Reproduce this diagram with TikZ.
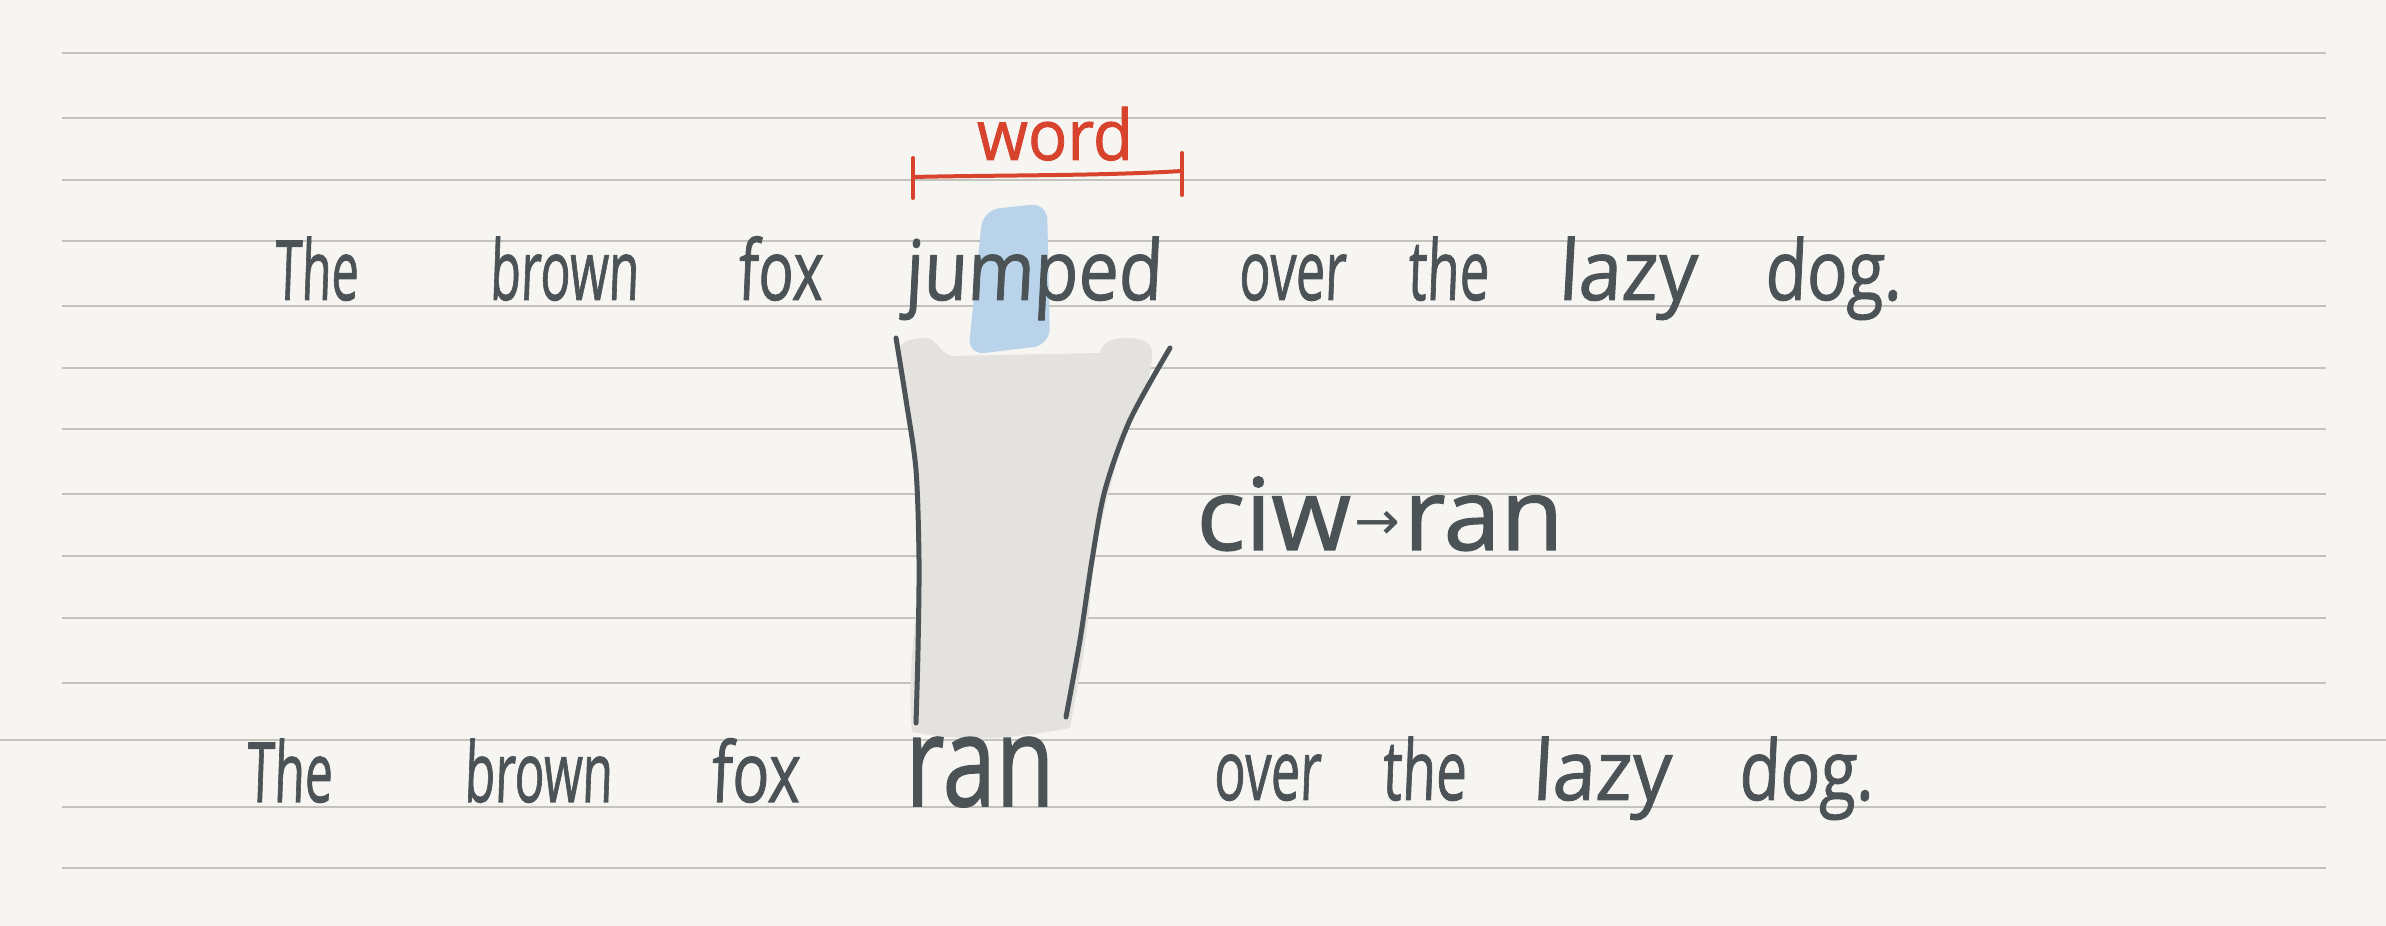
\documentclass[tikz,border=0pt]{standalone}
\usepackage{fontspec}
\usepackage{graphicx}
\newfontfamily\handfont[FakeSlant=0.06,FakeBold=1.2]{Open Sans}
\newfontfamily\uprightfont[FakeBold=1.2]{Open Sans}
\newfontfamily\symfont{DejaVu Sans}
\definecolor{paper}{HTML}{F6F5F1}
\definecolor{rulecol}{HTML}{C3C2BC}
\definecolor{ink}{HTML}{4B5356}
\definecolor{redink}{HTML}{D8432D}
\definecolor{hl}{HTML}{B9D3EA}
\definecolor{smudge}{HTML}{E3E2DE}
\newcommand\handword[2]{\setbox0\hbox{#2}\pgfmathsetmacro\hwr{#1*0.3/\the\wd0}\scalebox{\hwr}[1]{\box0}}
\begin{document}
\begin{tikzpicture}[x=0.3pt, y=-0.3pt,
  ruleline/.style={draw=rulecol, line width=0.75pt},
  word/.style={font={\handfont\fontsize{25pt}{25pt}\selectfont}, text=ink, inner sep=0pt, anchor=base},
  bigword/.style={word, font={\uprightfont\fontsize{38pt}{38pt}\selectfont}},
  cmdword/.style={word, font={\uprightfont\fontsize{30pt}{30pt}\selectfont}},
  redword/.style={word, text=redink, font={\uprightfont\fontsize{21pt}{21pt}\selectfont}},
  pen/.style={draw=ink, line width=1.5pt, line cap=round, line join=round},
  redpen/.style={draw=redink, line width=1.2pt, line cap=round, line join=round}]
\useasboundingbox (0,0) rectangle (2386,926);
\fill[paper] (0,0) rectangle (2386,926);
% ruled lines
\foreach \yy in {53,118,180,241,306,368,429,494,556,618,683,807,868}
  \draw[ruleline] (62,\yy) -- (2326,\yy);
\draw[ruleline] (0,740) -- (2386,740);
% grey smudge
\fill[smudge] (898,352) to[out=80,in=180] (925,338) to[out=0,in=170] (952,356)
  -- (1100,353) to[out=80,in=180] (1125,338) to[out=0,in=90] (1152,352)
  to[out=-90,in=75] (1120,450) to[out=-105,in=85] (1090,600) to[out=-95,in=80] (1070,728)
  to[out=-170,in=-10] (912,732) to[out=95,in=-90] (918,560) to[out=90,in=-80] (906,400)
  to[out=100,in=-90] cycle;
% blue highlight
\fill[hl, rounded corners=5pt] (983,210) -- (1047,203) -- (1050,345) -- (968,355) -- cycle;
% top sentence
\node[word] (t1) at (316,300) {\handword{84}{The}};
\node[word] (t2) at (564,300) {\handword{149}{brown}};
\node[word] (t3) at (780,300) {\handword{85}{fox}};
\node[word] (t4) at (1033,300) {\handword{257}{jumped}};
\node[word] (t5) at (1292,300) {\handword{107}{over}};
\node[word] (t6) at (1448,300) {\handword{81}{the}};
\node[word] (t7) at (1627,300) {\handword{138}{lazy}};
\node[word] (t8) at (1833,300) {\handword{137}{dog.}};
% bottom sentence
\node[word] (b1) at (289,802) {\handword{86}{The}};
\node[word] (b2) at (538,802) {\handword{148}{brown}};
\node[word] (b3) at (755,802) {\handword{89}{fox}};
\node[bigword] (b4) at (980,806) {\handword{149}{ran}};
\node[word] (b5) at (1267,800) {\handword{107}{over}};
\node[word] (b6) at (1424,800) {\handword{84}{the}};
\node[word] (b7) at (1601,800) {\handword{138}{lazy}};
\node[word] (b8) at (1806,800) {\handword{135}{dog.}};
% command
\node[cmdword] (cmd) at (1380,550) {\handword{367}{ciw\hspace{1pt}{\symfont\fontsize{16pt}{16pt}\selectfont\raisebox{3pt}{→}}\hspace{1pt}ran}};
% red label
\node[redword] (lbl) at (1055,160) {\handword{156}{word}};
\coordinate (bl) at (913,177);
\coordinate (br) at (1182,171);
\draw[redpen] (913,158) -- (913,198);
\draw[redpen] (1182,153) -- (1182,195);
\draw[redpen] (bl) .. controls (1000,175) and (1100,176) .. (br);
% funnel outlines
\draw[pen] plot[smooth] coordinates {(896,338) (906,400) (916,470) (919,560) (918,650) (916,723)};
\draw[pen] plot[smooth] coordinates {(1170,348) (1130,420) (1105,490) (1092,560) (1080,640) (1066,717)};
\end{tikzpicture}
\end{document}
